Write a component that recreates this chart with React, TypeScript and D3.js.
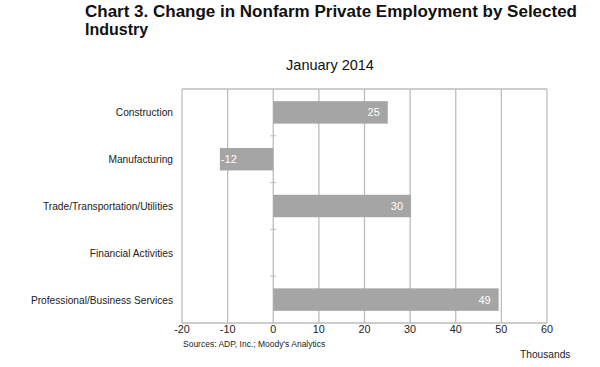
import React from "react";
import * as d3 from "d3";

const categories = [
  "Construction",
  "Manufacturing",
  "Trade/Transportation/Utilities",
  "Financial Activities",
  "Professional/Business Services",
];
const values: (number | null)[] = [25.1, -11.7, 30.2, null, 49.4];
const valueLabels = ["25", "-12", "30", "", "49"];
const xTicks = [-20, -10, 0, 10, 20, 30, 40, 50, 60];

const W = 600;
const H = 367;
const M = { left: 182, right: 53, top: 89, bottom: 44 };

export default function App() {
  const x = d3.scaleLinear().domain([-20, 60]).range([M.left, W - M.right]);
  const y = d3
    .scaleBand<string>()
    .domain(categories)
    .range([M.top, H - M.bottom])
    .paddingInner(0.52)
    .paddingOuter(0.26);
  const band = (H - M.bottom - M.top) / categories.length;
  const font = "Arial, 'Liberation Sans', sans-serif";
  const grid = "#bdbdbd";
  return (
    <div style={{ position: "absolute", left: 0, top: 0 }}>
      <svg width={W} height={H} style={{ display: "block", background: "#fff" }} fontFamily={font}>
        <text x={85} y={17} fontSize={16} fontWeight="bold" fill="#111" textLength={492} lengthAdjust="spacingAndGlyphs">
          Chart 3. Change in Nonfarm Private Employment by Selected
        </text>
        <text x={85} y={35} fontSize={16} fontWeight="bold" fill="#111">
          Industry
        </text>
        <text x={330} y={70} fontSize={14.5} textAnchor="middle" fill="#111">
          January 2014
        </text>
        {/* grid */}
        {xTicks.map((t) => (
          <line key={t} x1={x(t)} x2={x(t)} y1={M.top} y2={H - M.bottom} stroke={grid} strokeWidth={1.3} />
        ))}
        <line x1={x(-20)} x2={x(60)} y1={M.top} y2={M.top} stroke={grid} strokeWidth={1.3} />
        <line x1={x(-20)} x2={x(60)} y1={H - M.bottom} y2={H - M.bottom} stroke={grid} strokeWidth={1.3} />
        {/* category ticks on zero axis */}
        {d3.range(1, categories.length).map((i) => (
          <line
            key={i}
            x1={x(0) - 3}
            x2={x(0) + 3}
            y1={M.top + i * band}
            y2={M.top + i * band}
            stroke={grid}
            strokeWidth={1}
          />
        ))}
        {/* bars */}
        {categories.map((c, i) => {
          const v = values[i];
          if (v === null) return null;
          const x0 = x(Math.min(0, v));
          const x1 = x(Math.max(0, v));
          return (
            <rect key={c} x={x0} y={y(c)} width={x1 - x0} height={y.bandwidth()} fill="#a5a5a5" />
          );
        })}
        {categories.map((c, i) => {
          const v = values[i];
          if (v === null || !valueLabels[i]) return null;
          const neg = v < 0;
          return (
            <text
              key={c + "l"}
              x={neg ? x(v) + 1 : x(v) - 8}
              y={(y(c) as number) + y.bandwidth() / 2 + 4}
              fontSize={11}
              fill="#fff"
              textAnchor={neg ? "start" : "end"}
            >
              {valueLabels[i]}
            </text>
          );
        })}
        {/* category labels */}
        {categories.map((c) => (
          <text
            key={c + "c"}
            x={173}
            y={(y(c) as number) + y.bandwidth() / 2 + 4}
            fontSize={10.2}
            textAnchor="end"
            fill="#222"
          >
            {c}
          </text>
        ))}
        {/* x tick labels */}
        {xTicks.map((t) => (
          <text key={t + "t"} x={x(t)} y={333} fontSize={10.8} textAnchor="middle" fill="#222">
            {t}
          </text>
        ))}
        <text x={183} y={347} fontSize={8.5} fill="#222">
          Sources: ADP, Inc.; Moody's Analytics
        </text>
        <text x={520} y={358} fontSize={10.2} fill="#222">
          Thousands
        </text>
      </svg>
    </div>
  );
}
